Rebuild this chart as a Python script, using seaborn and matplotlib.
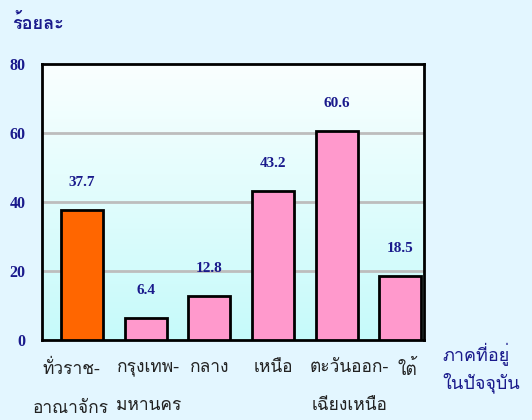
import numpy as np
import pandas as pd
import matplotlib
matplotlib.use('Agg')
import matplotlib.pyplot as plt
import matplotlib.transforms as mtrans
import seaborn as sns
from matplotlib import font_manager as fm
from matplotlib.ft2font import FT2Font
from matplotlib.colors import LinearSegmentedColormap

# ข้อมูล
regions = ['ทั่วราช-\nอาณาจักร', 'กรุงเทพ-\nมหานคร', 'กลาง', 'เหนือ', 'ตะวันออก-\nเฉียงเหนือ', 'ใต้']
percent = [37.7, 6.4, 12.8, 43.2, 60.6, 18.5]
bar_colors = ['#FF6600', '#FF99CC', '#FF99CC', '#FF99CC', '#FF99CC', '#FF99CC']
yticks = [0, 20, 40, 60, 80]
label_shift = [-8, 2, 0, 0, 9, 5]  # เลื่อนป้ายแกน x (points)

sns.set_style('white')

# หา font ที่มีตัวอักษรไทย
thai_font = None
for f in fm.fontManager.ttflist:
    try:
        if 0x0E23 in FT2Font(f.fname).get_charmap():
            thai_font = f.name
            break
    except Exception:
        pass
fams = [thai_font, 'DejaVu Sans'] if thai_font else ['DejaVu Sans']
plt.rcParams['font.family'] = fams

navy = '#1A1A8C'
df = pd.DataFrame({'region': regions, 'pct': percent})

fig = plt.figure(figsize=(5.32, 4.2), dpi=100, facecolor='#E3F6FF')
ax = fig.add_axes([0.079, 0.19, 0.718, 0.658])

sns.barplot(data=df, x='region', y='pct', hue='region', palette=bar_colors,
            legend=False, width=0.66, saturation=1, edgecolor='black',
            linewidth=2, ax=ax, zorder=3)

# แท่งอยู่ค่อนไปทางขวาของแต่ละช่อง
x0 = -0.628
ax.set_xlim(x0, x0 + len(regions))
ax.set_ylim(0, 80)

# พื้นหลังไล่สี
grad = np.linspace(0, 1, 256).reshape(-1, 1)
cmap = LinearSegmentedColormap.from_list('bg', ['#C6FAFA', '#FAFFFF'])
ax.imshow(grad, cmap=cmap, origin='lower', aspect='auto',
          extent=[x0, x0 + len(regions), 0, 80], zorder=0)

for y in yticks[1:-1]:
    ax.axhline(y, color='#BDBDBD', lw=2, zorder=1)

for i, v in enumerate(percent):
    ax.annotate(f'{v}', (i, v), xytext=(0, 15), textcoords='offset points',
                ha='center', va='bottom', color=navy, fontsize=11,
                fontweight='bold', family='Liberation Serif')

ax.set_yticks(yticks)
ax.set_yticklabels([str(t) for t in yticks], color=navy, fontweight='bold',
                   fontsize=11.5, family='Liberation Serif')
ax.tick_params(axis='y', direction='out', length=6, width=2, color='black', pad=6)

ax.set_xticks(range(len(regions)))
ax.set_xticklabels(regions, fontsize=12.5, color='#222222', linespacing=2.9)
ax.set_xticks(x0 + np.arange(len(regions) + 1), minor=True)
ax.tick_params(axis='x', which='major', length=0, pad=14)
ax.tick_params(axis='x', which='minor', direction='out', length=6, width=2, color='black')
for lab, dx in zip(ax.get_xticklabels(), label_shift):
    lab.set_transform(lab.get_transform() +
                      mtrans.ScaledTranslation(dx / 72, 0, fig.dpi_scale_trans))

for s in ax.spines.values():
    s.set_color('black')
    s.set_linewidth(2)
ax.set_xlabel('')
ax.set_ylabel('')

fig.text(0.022, 0.945, 'ร้อยละ', color=navy, fontsize=13, fontweight='bold', va='center')
fig.text(0.832, 0.183, 'ภาคที่อยู่\nในปัจจุบัน', color=navy, fontsize=13,
         ha='left', va='top', linespacing=1.4)

fig.savefig('out.png', dpi=100, facecolor=fig.get_facecolor())
